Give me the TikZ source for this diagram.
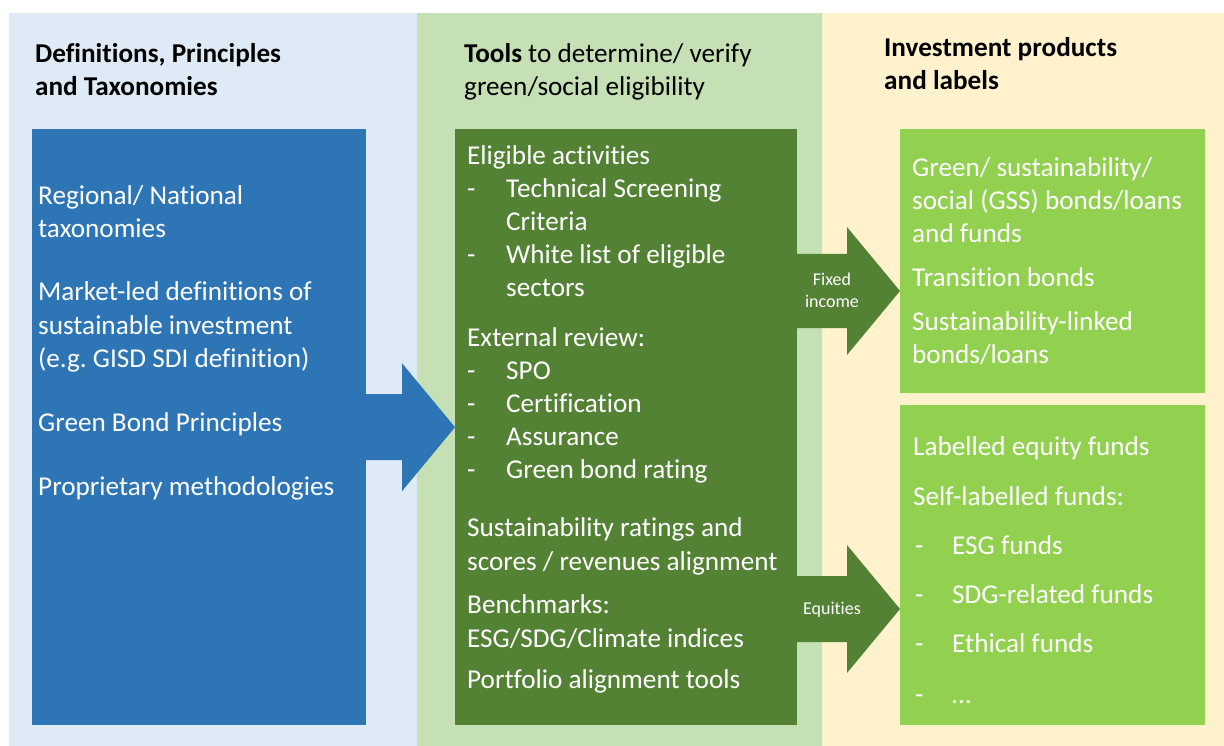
\documentclass[tikz,border=0pt]{standalone}
\usepackage{fontspec}
\setmainfont{Carlito}[Ligatures=NoCommon]
\frenchspacing
\usetikzlibrary{positioning,calc}

\definecolor{bgblue}{HTML}{DEEBF7}
\definecolor{bggreen}{HTML}{C5E0B4}
\definecolor{bgyellow}{HTML}{FFF2CC}
\definecolor{boxblue}{HTML}{2E75B6}
\definecolor{boxgreen}{HTML}{548235}
\definecolor{boxlime}{HTML}{92D050}

\tikzset{
  txt/.style={anchor=base west,inner sep=0,text=white,font=\fontsize{27.2}{33}\selectfont},
  head/.style={anchor=base west,inner sep=0,text=black,font=\fontsize{27.2}{33}\selectfont},
  small/.style={anchor=base,inner sep=0,text=white,font=\fontsize{18}{21}\selectfont},
  panel/.style={anchor=north west,inner sep=0,draw=none}
}

% block arrow: from, tip, half body height, colour
\newcommand{\blockarrow}[4]{%
  \fill[#4] ($(#1)+(-1,-#3)$) -- ($(#2)+(-53,-#3)$) -- ($(#2)+(-53,-64)$) -- (#2)
    -- ($(#2)+(-53,64)$) -- ($(#2)+(-53,#3)$) -- ($(#1)+(-1,#3)$) -- cycle;}

\begin{document}
\begin{tikzpicture}[x=1pt,y=-1pt]
\useasboundingbox (0,0) rectangle (1224,746);

% background columns
\fill[bgblue] (9,13) rectangle (417,746);
\fill[bggreen] (417,13) rectangle (822,746);
\fill[bgyellow] (822,13) rectangle (1224,746);

% headings
\node[head] (defhead1) at (35,63) {\bfseries Definitions, Principles};
\node[head] (defhead2) at (35,96) {\bfseries and Taxonomies};
\node[head] (toolhead1) at (464,63) {\textbf{Tools} to determine/ verify};
\node[head] (toolhead2) at (464,96) {green/social eligibility};
\node[head] (prodhead1) at (884,57) {\bfseries Investment products};
\node[head] (prodhead2) at (884,90) {\bfseries and labels};

% boxes
\node[panel,fill=boxblue,minimum width=334pt,minimum height=596pt] (defs) at (32,129) {};
\node[panel,fill=boxgreen,minimum width=342pt,minimum height=596pt] (tools) at (455,129) {};
\node[panel,fill=boxlime,minimum width=305pt,minimum height=264pt] (gss) at (900,129) {};
\node[panel,fill=boxlime,minimum width=305pt,minimum height=320pt] (equity) at (900,405) {};

% arrows
\coordinate (fixtip) at (900,291);
\coordinate (fixfrom) at (tools.east |- fixtip);
\coordinate (eqtip) at (900,609);
\coordinate (eqfrom) at (tools.east |- eqtip);
\blockarrow{defs.east}{tools.west}{33}{boxblue}
\blockarrow{fixfrom}{fixtip}{37}{boxgreen}
\blockarrow{eqfrom}{eqtip}{33}{boxgreen}
\node[small] (fixlbl1) at (832,286) {Fixed};
\node[small] (fixlbl2) at (832,307) {income};
\node[small] (eqlbl) at (832,614) {Equities};

% left box
\foreach \yy/\words [count=\i] in {205/{Regional/ National},238/taxonomies,
    300/{Market-led definitions of},334/{sustainable investment},
    367/{(e.g. GISD SDI definition)},431/{Green Bond Principles},
    495/{Proprietary methodologies}}
  \node[txt] (def\i) at (38,\yy) {\words};

% middle box
\foreach \yy/\words [count=\i] in {165/{Eligible activities},346/{External review:},
    536/{Sustainability ratings and},570/{scores / revenues alignment},
    613/{Benchmarks:},647/{ESG/SDG/Climate indices},688/{Portfolio alignment tools}}
  \node[txt] (tool\i) at (467,\yy) {\words};
\foreach \yy/\words [count=\i] in {198/{Technical Screening},231/Criteria,
    264/{White list of eligible},297/sectors,379/SPO,412/Certification,
    445/Assurance,478/{Green bond rating}}
  \node[txt] (item\i) at (506,\yy) {\words};
\foreach \yy [count=\i] in {198,264,379,412,445,478}
  \node[txt] (tdash\i) at (467,\yy) {-};

% right boxes
\foreach \yy/\words [count=\i] in {177/{Green/ sustainability/},210/{social (GSS) bonds/loans},
    243/{and funds},287/{Transition bonds},330/{Sustainability-linked},363/{bonds/loans}}
  \node[txt] (gss\i) at (912,\yy) {\words};
\node[txt] (eq1) at (913,455) {Labelled equity funds};
\node[txt] (eq2) at (913,505) {Self-labelled funds:};
\foreach \yy/\words [count=\i] in {554/{ESG funds},603/{SDG-related funds},
    652/{Ethical funds},703/{…}}
{
  \node[txt] (fdash\i) at (915,\yy) {-};
  \node[txt] (fund\i) at (952,\yy) {\words};
}
\end{tikzpicture}
\end{document}
